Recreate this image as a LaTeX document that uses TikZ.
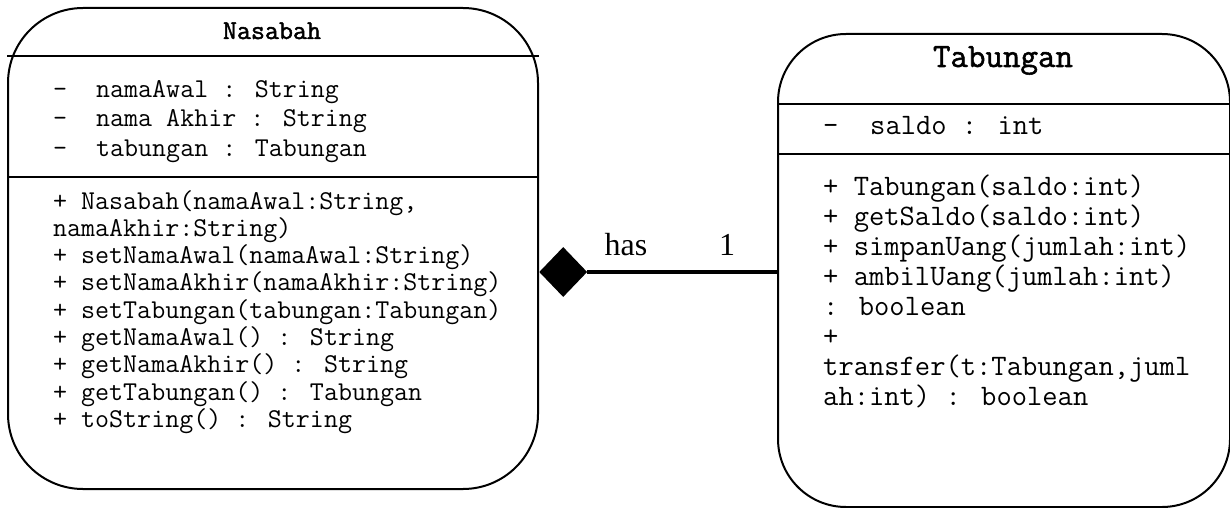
\documentclass[tikz,border=0pt]{standalone}
\usepackage{fontspec}
\setmainfont{Liberation Serif}
\newfontfamily\heavymono[FakeBold=1.6]{Latin Modern Mono}
\usetikzlibrary{shapes.geometric}

% monospaced text of the two class boxes (Latin Modern Mono)
\newcommand\leftcode{\fontsize{27.2}{27.5}\selectfont\ttfamily}
\newcommand\rightcode{\fontsize{29.7}{30}\selectfont\ttfamily}
\newcommand\lefttitle{\fontsize{27.2}{27.5}\selectfont\heavymono}
\newcommand\righttitle{\fontsize{34}{34}\selectfont\heavymono}

\begin{document}
\begin{tikzpicture}[x=1pt, y=-1pt,
  classbox/.style={draw, line width=2pt, rounded corners=#1, anchor=north west,
                   inner sep=0pt, fill=white},
  sepline/.style={line width=2.6pt},
  txt/.style={anchor=base west, inner sep=0pt},
  ttl/.style={anchor=base, inner sep=0pt},
  assoc/.style={line width=4pt},
  comp/.style={diamond, fill=black, inner sep=0pt, anchor=west,
               minimum width=48pt, minimum height=50pt},
  lbl/.style={anchor=base, inner sep=0pt, font=\fontsize{32}{32}\selectfont}
]
\useasboundingbox (0,0) rectangle (1230,508);

% ---------- class Nasabah ----------
\node[classbox=75pt, minimum width=530pt, minimum height=481pt] (nasabah) at (7,7) {};
\draw[sepline] (nasabah.west |- 0,56) -- (nasabah.east |- 0,56);
\draw[sepline] (nasabah.west |- 0,177) -- (nasabah.east |- 0,177);
\node[ttl, font=\lefttitle] (nasabahTitle) at (272,39) {Nasabah};

\foreach [count=\i] \t/\yy in {namaAwal : String/98, nama Akhir : String/127,
                                tabungan : Tabungan/156} {
  \node[txt, font=\leftcode] (na\i dash) at (53,\yy) {-};
  \node[txt, font=\leftcode] (na\i) at (96,\yy) {\t};
}

\foreach [count=\i] \t in {{+ Nasabah(namaAwal:String,},
                           {namaAkhir:String)},
                           {+ setNamaAwal(namaAwal:String)},
                           {+ setNamaAkhir(namaAkhir:String)},
                           {+ setTabungan(tabungan:Tabungan)},
                           {+ getNamaAwal() : String},
                           {+ getNamaAkhir() : String},
                           {+ getTabungan() : Tabungan},
                           {+ toString() : String}} {
  \node[txt, font=\leftcode] (nm\i) at (53,{209+27.3*(\i-1)}) {\t};
}

% ---------- class Tabungan ----------
\node[classbox=68pt, minimum width=452pt, minimum height=473pt] (tabungan) at (777,33) {};
\draw[sepline] (tabungan.west |- 0,104) -- (tabungan.east |- 0,104);
\draw[sepline] (tabungan.west |- 0,154) -- (tabungan.east |- 0,154);
\node[ttl, font=\righttitle] (tabunganTitle) at (1003,67) {Tabungan};

\node[txt, font=\rightcode] (ta1dash) at (823,135) {-};
\node[txt, font=\rightcode] (ta1) at (870,135) {saldo : int};

\foreach [count=\i] \t in {{+ Tabungan(saldo:int)},
                           {+ getSaldo(saldo:int)},
                           {+ simpanUang(jumlah:int)},
                           {+ ambilUang(jumlah:int)},
                           {: boolean},
                           {+},
                           {transfer(t:Tabungan,juml},
                           {ah:int) : boolean}} {
  \node[txt, font=\rightcode] (tm\i) at (823,{195+30*(\i-1)}) {\t};
}

% ---------- composition ----------
\node[comp] (dia) at (nasabah.east |- 0,272) {};
\draw[assoc] (dia.east) -- (dia.east -| tabungan.west);
\node[lbl] (has) at (626,255) {has};
\node[lbl] (mult) at (727,255) {1};
\end{tikzpicture}
\end{document}
